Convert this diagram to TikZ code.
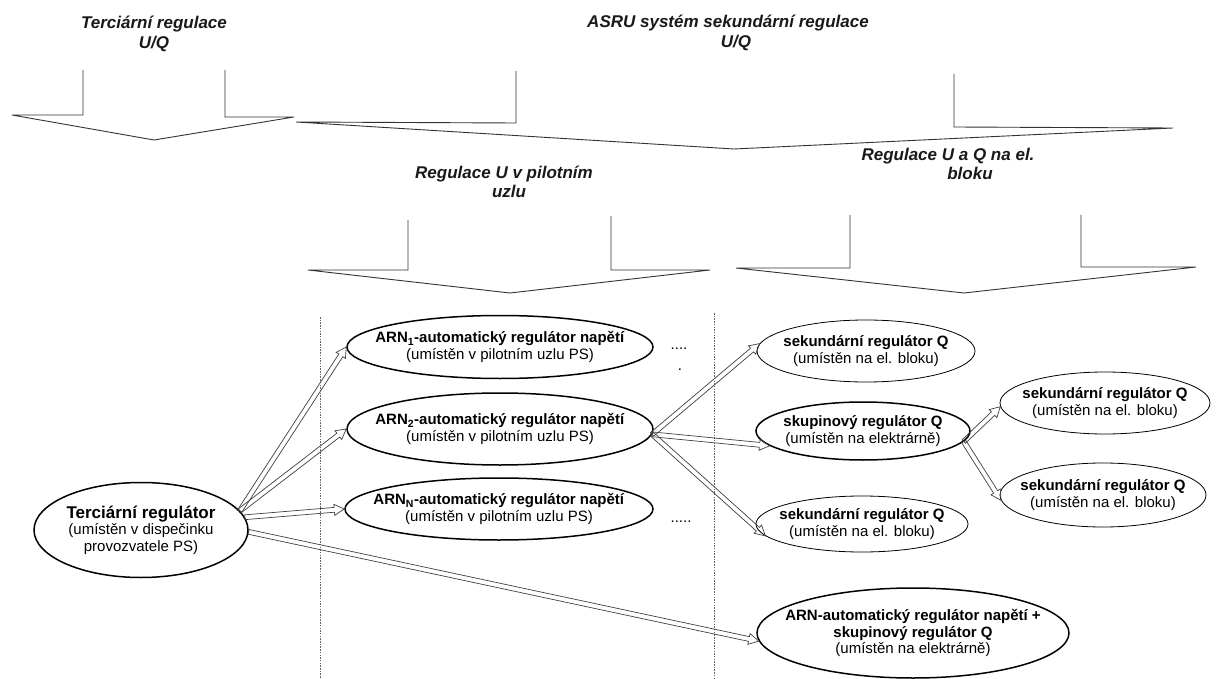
\documentclass[tikz,border=0pt]{standalone}
\usepackage{fontspec}
\setmainfont{Liberation Sans}
\usetikzlibrary{shapes.geometric,calc}

\tikzset{
  brk/.style={draw=black!80, line width=0.9pt, line join=miter},
  lbl/.style={font=\fontsize{17}{19.5}\selectfont\bfseries\itshape, align=center, inner sep=0pt, text=black!90},
  ell/.style={shape=ellipse, draw, align=center, inner xsep=-40pt, inner ysep=-6pt, font=\fontsize{15}{16.5}\selectfont},
  ellthick/.style={ell, line width=1.5pt},
  ellthin/.style={ell, line width=0.8pt},
  arrline/.style={draw=black!75, line width=0.7pt, line join=miter},
  sepline/.style={draw=black!60, line width=0.7pt, dash pattern=on 1.5pt off 1.2pt},
  dots/.style={font=\fontsize{15}{16}\selectfont, inner sep=0pt}
}

\newcommand\blockarr[2]{%
  \coordinate (bas) at #1;
  \coordinate (bae) at #2;
  \coordinate (bah) at ($(bae)!10pt!(bas)$);
  \draw[arrline] ($(bas)!2.4pt!90:(bae)$) -- ($(bah)!2.4pt!90:(bae)$) -- ($(bah)!5.5pt!90:(bae)$) -- (bae)
     -- ($(bah)!5.5pt!-90:(bae)$) -- ($(bah)!2.4pt!-90:(bae)$) -- ($(bas)!2.4pt!-90:(bae)$) -- cycle;
}

\begin{document}
\begin{tikzpicture}[x=1pt, y=-1pt]
\useasboundingbox (0,0) rectangle (1218,679);
\fill[white] (0,0) rectangle (1218,679);

% top labels
\node[lbl] (l1) at (154,34) {Terciární regulace\\U/Q};
\node[lbl] (l2) at (728,33) {ASRU systém sekundární regulace\\\hspace*{16pt}U/Q};
\node[lbl] (l3) at (504,182) {Regulace U v pilotním\\\hspace*{10pt}uzlu};
\node[lbl] (l4) at (948,164) {Regulace U a Q na el.\\\hspace*{44pt}bloku};

% brackets
\draw[brk] (83,70) -- (83,115) -- (12,115) -- (154,140) -- (294,117) -- (225,117) -- (225,70);
\draw[brk] (516,71) -- (516,123) -- (296,122) -- (734,149) -- (1173,128) -- (954,127) -- (954,74);
\draw[brk] (408,220) -- (408,270) -- (308,270) -- (510,293) -- (710,270) -- (611,270) -- (611,216);
\draw[brk] (850,215) -- (850,268) -- (736,268) -- (964,293) -- (1196,267) -- (1081,267) -- (1081,215);

% separators
\draw[sepline] (320,317) -- (320,679);
\draw[sepline] (714,313) -- (714,679);

% nodes
\node[ellthick, minimum width=214pt, minimum height=95pt] (terc) at (141,530)
  {{\fontsize{17}{18}\selectfont\bfseries Terciární regulátor}\\(umístěn v dispečinku\\provozvatele PS)};
\node[ellthick, minimum width=306pt, minimum height=63pt] (arn1) at (500,347)
  {\textbf{ARN\textsubscript{1}-automatický regulátor napětí}\\(umístěn v pilotním uzlu PS)};
\node[ellthick, minimum width=306pt, minimum height=72pt] (arn2) at (500,429)
  {\textbf{ARN\textsubscript{2}-automatický regulátor napětí}\\(umístěn v pilotním uzlu PS)};
\node[ellthick, minimum width=308pt, minimum height=62pt] (arnN) at (499,509)
  {\textbf{ARN\textsubscript{N}-automatický regulátor napětí}\\(umístěn v pilotním uzlu PS)};
\node[ellthin, minimum width=218pt, minimum height=62pt] (sek1) at (866,351)
  {\textbf{sekundární regulátor Q}\\(umístěn na el. bloku)};
\node[ellthick, minimum width=214pt, minimum height=58pt] (skup) at (863,431)
  {\textbf{skupinový regulátor Q}\\(umístěn na elektrárně)};
\node[ellthin, minimum width=212pt, minimum height=56pt] (sek3) at (862,524)
  {\textbf{sekundární regulátor Q}\\(umístěn na el. bloku)};
\node[ellthin, minimum width=210pt, minimum height=62pt] (sek4) at (1105,403)
  {\textbf{sekundární regulátor Q}\\(umístěn na el. bloku)};
\node[ellthin, minimum width=206pt, minimum height=64pt] (sek5) at (1103,495)
  {\textbf{sekundární regulátor Q}\\(umístěn na el. bloku)};
\node[ellthick, minimum width=312pt, minimum height=90pt] (arnq) at (913,633)
  {\textbf{ARN-automatický regulátor napětí +}\\\textbf{skupinový regulátor Q}\\(umístěn na elektrárně)};

% dots
\node[dots] (d1) at (679,349) {....};
\node[dots] (d2) at (680,370) {.};
\node[dots] (d3) at (681,522) {.....};

% arrows
\blockarr{(terc.11)}{(arn1.west)}
\blockarr{(terc.11)}{(arn2.west)}
\blockarr{(terc.7)}{(arnN.west)}
\blockarr{(terc.-1)}{(arnq.183)}
\blockarr{(arn2.-2)}{(sek1.176)}
\blockarr{(arn2.-2)}{(skup.189)}
\blockarr{(arn2.-2)}{(sek3.187)}
\blockarr{(skup.-6)}{(sek4.182)}
\blockarr{(skup.-6)}{(sek5.183)}
\end{tikzpicture}
\end{document}
